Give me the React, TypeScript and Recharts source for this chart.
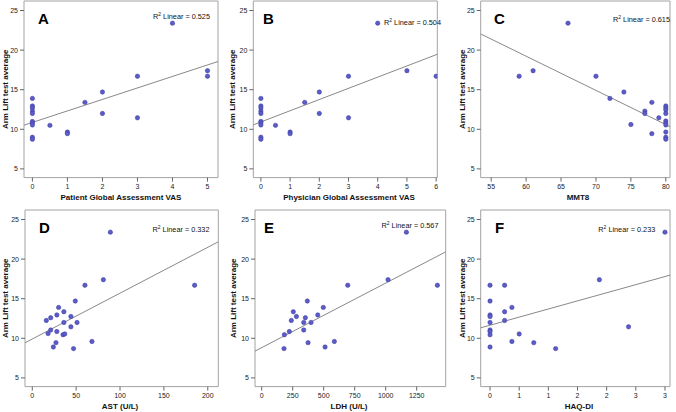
import React from "react";
import {
  ScatterChart,
  Scatter,
  XAxis,
  YAxis,
  ReferenceArea,
  ReferenceLine,
} from "recharts";

// Values: Arm Lift test average against six clinical measures
const pgaVas = [0, 0, 0, 0, 0, 0, 0, 0, 0, 0, 0.5, 1, 1, 1.5, 2, 2, 3, 3, 4, 5, 5];
const pgaArmLift = [13.9, 12.95, 12.7, 12.3, 12.0, 11.0, 10.8, 10.55, 9.0, 8.75, 10.5, 9.65, 9.45, 13.4, 14.7, 12.0, 16.7, 11.45, 23.4, 17.4, 16.7];

const phgaVas = [0, 0, 0, 0, 0, 0, 0, 0, 0, 0, 0.5, 1, 1, 1.5, 2, 2, 3, 3, 4, 5, 6];
const phgaArmLift = [13.9, 12.95, 12.7, 12.3, 12.0, 11.0, 10.8, 10.55, 9.0, 8.75, 10.5, 9.65, 9.45, 13.4, 14.7, 12.0, 16.7, 11.45, 23.4, 17.4, 16.7];

const mmt8 = [66, 59, 61, 70, 72, 74, 75, 77, 77, 78, 78, 79, 80, 80, 80, 80, 80, 80, 80, 80, 80, 80];
const mmt8ArmLift = [23.4, 16.7, 17.4, 16.7, 13.9, 14.7, 10.6, 12.3, 12.0, 13.4, 9.45, 11.45, 12.95, 12.7, 12.45, 12.0, 11.05, 10.8, 10.55, 9.65, 9.0, 8.75];

const ast = [16, 21, 21, 18, 24, 27, 28, 30, 28, 36, 36, 35, 37, 44, 44, 49, 47, 51, 60, 68, 81, 89, 185];
const astArmLift = [12.25, 12.6, 11.05, 10.6, 8.9, 9.45, 12.95, 13.9, 10.85, 13.35, 12.0, 10.45, 10.55, 11.45, 12.75, 14.7, 8.7, 12.0, 16.7, 9.6, 17.4, 23.4, 16.7];

const ldh = [183, 180, 223, 239, 255, 280, 339, 339, 352, 368, 374, 398, 452, 497, 511, 586, 694, 1019, 1167, 1417];
const ldhArmLift = [10.45, 8.7, 10.85, 12.25, 13.35, 12.75, 12.0, 11.05, 12.6, 14.7, 9.45, 12.0, 12.95, 13.9, 8.9, 9.6, 16.7, 17.4, 23.4, 16.7];

const haqDi = [0, 0, 0, 0, 0, 0, 0, 0, 0, 0.25, 0.25, 0.25, 0.375, 0.375, 0.5, 0.75, 1.125, 1.875, 2.375, 3];
const haqArmLift = [16.7, 14.7, 12.95, 12.75, 12.0, 11.05, 10.85, 10.45, 8.9, 16.7, 13.35, 12.25, 13.9, 9.6, 10.55, 9.45, 8.7, 17.4, 11.45, 23.4];

const armLiftTicks = [5, 10, 15, 20, 25];
const pgaTicks = [0, 1, 2, 3, 4, 5];
const phgaTicks = [0, 1, 2, 3, 4, 5, 6];
const mmt8Ticks = [55, 60, 65, 70, 75, 80];
const astTicks = [0, 50, 100, 150, 200];
const ldhTicks = [0, 250, 500, 750, 1000, 1250];
const haqTicks = [0, 0.5, 1, 1.5, 2, 2.5, 3];

// fit lines (intercept, slope) and R² as printed on the figure
const fits = [
  { a: 10.87, b: 1.451, r2: "0.525" },
  { a: 10.93, b: 1.414, r2: "0.504" },
  { a: 45.15, b: -0.432, r2: "0.615" },
  { a: 9.91, b: 0.0579, r2: "0.332" },
  { a: 8.82, b: 0.00815, r2: "0.567" },
  { a: 11.65, b: 2.049, r2: "0.233" },
];

const Y_DOMAIN: [number, number] = [3.9, 26.2];
const W = 225;
const H = 206;
const FONT = "'Liberation Sans', Arial, sans-serif";

const toPoints = (xs: number[], ys: number[]) => xs.map((x, i) => ({ x, y: ys[i] }));

const panels = [
  {
    letter: "A", title: "Patient Global Assessment VAS", xs: pgaVas, ys: pgaArmLift, ticks: pgaTicks,
    xDomain: [-0.24, 5.3], left: 0, top: 0, plot: { l: 24, r: 218, t: 1, b: 177.6 },
    letterPos: [38, 24], r2Pos: [153, 19], titlePos: [121, 200], yTitleX: 8,
  },
  {
    letter: "B", title: "Physician Global Assessment VAS", xs: phgaVas, ys: phgaArmLift, ticks: phgaTicks,
    xDomain: [-0.26, 6.04], left: 225, top: 0, plot: { l: 28.3, r: 212.3, t: 1, b: 177.6 },
    letterPos: [38, 24], r2Pos: [159, 24.5], titlePos: [124, 200], yTitleX: 10.5,
  },
  {
    letter: "C", title: "MMT8", xs: mmt8, ys: mmt8ArmLift, ticks: mmt8Ticks,
    xDomain: [53.5, 80.6], left: 450, top: 0, plot: { l: 30.7, r: 220, t: 1, b: 177.6 },
    letterPos: [44, 24], r2Pos: [163, 21.5], titlePos: [128, 200], yTitleX: 15,
  },
  {
    letter: "D", title: "AST (U/L)", xs: ast, ys: astArmLift, ticks: astTicks,
    xDomain: [-8.3, 212], left: 0, top: 206, plot: { l: 25, r: 218.3, t: 4, b: 180.6 },
    letterPos: [39, 27.3], r2Pos: [152.5, 26], titlePos: [120, 203], yTitleX: 8.3,
  },
  {
    letter: "E", title: "LDH (U/L)", xs: ldh, ys: ldhArmLift, ticks: ldhTicks,
    xDomain: [-54, 1484], left: 225, top: 206, plot: { l: 30, r: 220.7, t: 4, b: 180.6 },
    letterPos: [39, 27.3], r2Pos: [156.5, 21.7], titlePos: [124, 203], yTitleX: 10.8,
  },
  {
    letter: "F", title: "HAQ-DI", xs: haqDi, ys: haqArmLift, ticks: haqTicks,
    xDomain: [-0.16, 3.086], left: 450, top: 206, plot: { l: 30.7, r: 220, t: 4, b: 180.6 },
    letterPos: [45, 26.7], r2Pos: [148.3, 26], titlePos: [129, 203], yTitleX: 15.2,
    fmt: (v: number) => String(Math.round(v)),
  },
];

const Dot = (props: any) => (
  <circle cx={props.cx} cy={props.cy} r={2.2} fill="#5b5bc9" stroke="#3a3a9e" strokeWidth={0.5} />
);

function Panel({ p, fit }: { p: (typeof panels)[number]; fit: (typeof fits)[number] }) {
  const [lo, hi] = p.xDomain;
  const data = toPoints(p.xs, p.ys);
  const yMid = (p.plot.t + p.plot.b) / 2;
  return (
    <div style={{ position: "absolute", left: p.left, top: p.top, width: W, height: H }}>
      <ScatterChart
        width={W}
        height={H}
        margin={{ top: p.plot.t, right: W - p.plot.r, bottom: 0, left: 0 }}
      >
        <XAxis
          type="number"
          dataKey="x"
          domain={[lo, hi]}
          ticks={p.ticks}
          interval={0}
          allowDataOverflow
          axisLine={false}
          tickSize={4}
          tickMargin={2}
          tickLine={{ stroke: "#666" }}
          tick={{ fontSize: 7, fill: "#222", fontFamily: FONT }}
          tickFormatter={p.fmt}
          height={H - p.plot.b}
        />
        <YAxis
          type="number"
          dataKey="y"
          domain={Y_DOMAIN}
          ticks={armLiftTicks}
          interval={0}
          allowDataOverflow
          axisLine={false}
          tickSize={4}
          tickMargin={2}
          tickLine={{ stroke: "#666" }}
          tick={{ fontSize: 7, fill: "#222", fontFamily: FONT }}
          width={p.plot.l}
        />
        <ReferenceArea
          x1={lo}
          x2={hi}
          y1={Y_DOMAIN[0]}
          y2={Y_DOMAIN[1]}
          fill="#ffffff"
          fillOpacity={0}
          stroke="#a3a3a3"
          strokeWidth={1}
        />
        <ReferenceLine
          segment={[
            { x: lo, y: fit.a + fit.b * lo },
            { x: hi, y: fit.a + fit.b * hi },
          ]}
          ifOverflow="hidden"
          stroke="#7a7a7a"
          strokeWidth={0.9}
        />
        <Scatter data={data} shape={Dot} isAnimationActive={false} />
      </ScatterChart>
      <svg
        width={W}
        height={H}
        style={{ position: "absolute", left: 0, top: 0, pointerEvents: "none", fontFamily: FONT }}
      >
        <text x={p.letterPos[0]} y={p.letterPos[1]} fontSize={15} fontWeight="bold" fill="#000">
          {p.letter}
        </text>
        <text x={p.r2Pos[0]} y={p.r2Pos[1]} fontSize={7.3} fill="#111">
          R<tspan fontSize={5} dy={-3}>2</tspan>
          <tspan dy={3}> Linear = {fit.r2}</tspan>
        </text>
        <text x={p.titlePos[0]} y={p.titlePos[1]} fontSize={8} fontWeight="bold" textAnchor="middle" fill="#111">
          {p.title}
        </text>
        <text
          x={p.yTitleX}
          y={yMid}
          fontSize={8}
          fontWeight="bold"
          textAnchor="middle"
          fill="#111"
          transform={`rotate(-90 ${p.yTitleX} ${yMid})`}
        >
          Arm Lift test average
        </text>
      </svg>
    </div>
  );
}

export default function App() {
  return (
    <div style={{ position: "absolute", left: 0, top: 0, width: 676, height: 412, background: "#fff", fontFamily: FONT }}>
      {panels.map((p, i) => (
        <Panel key={p.letter} p={p} fit={fits[i]} />
      ))}
    </div>
  );
}
